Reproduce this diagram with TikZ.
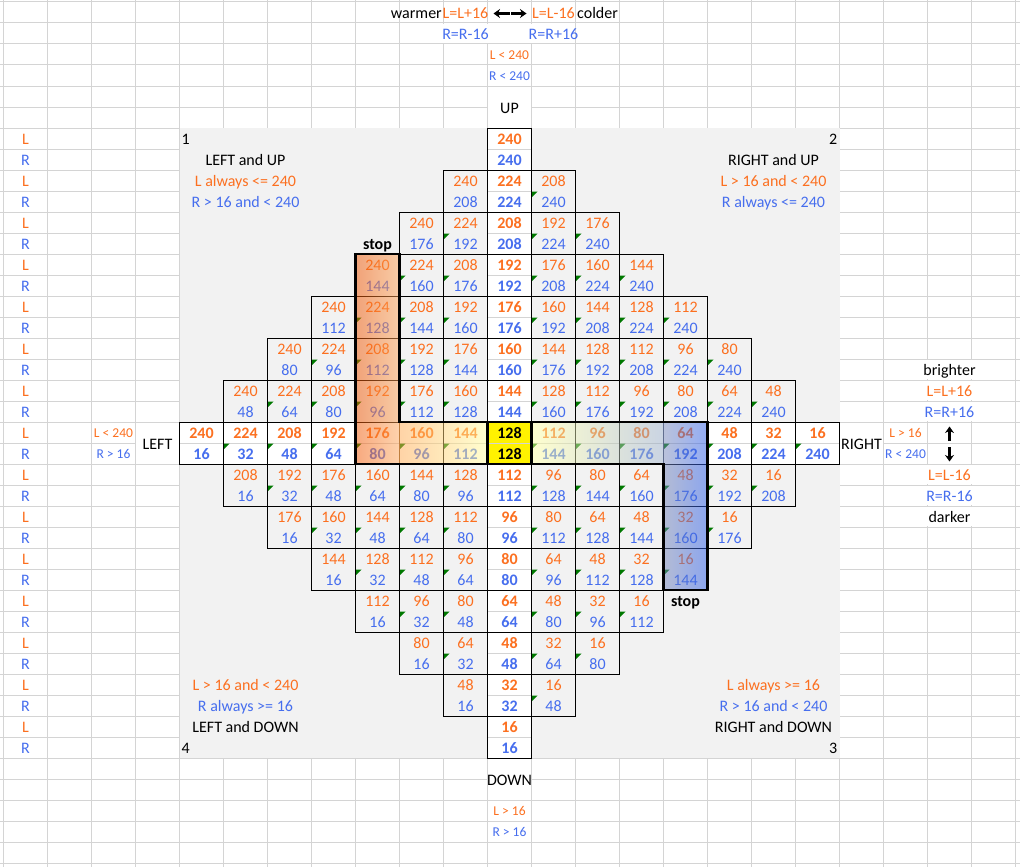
\documentclass[tikz,border=0pt]{standalone}
\usepackage{fontspec}
\setmainfont{Carlito}
\usetikzlibrary{arrows.meta}
\definecolor{lcol}{RGB}{252,112,32}
\definecolor{rcol}{RGB}{70,110,238}
\definecolor{gridc}{RGB}{212,212,212}
\definecolor{areac}{RGB}{242,242,242}
\definecolor{tickc}{RGB}{0,120,0}
\tikzset{>={Stealth[length=6.5pt,width=9pt]}}

\begin{document}
\begin{tikzpicture}[x=1pt, y=-1pt,
  txt/.style={inner sep=0pt, anchor=base, font=\fontsize{16}{19}\selectfont},
  small/.style={inner sep=0pt, anchor=base, font=\fontsize{13.5}{16}\selectfont},
  boldtxt/.style={txt, font=\fontsize{16}{19}\selectfont\bfseries},
  patch/.style={fill=white, draw=none},
  hilite/.style={line width=2.6pt, line join=miter}]

\useasboundingbox (0,0) rectangle (1020,867);
\fill[white] (0,0) rectangle (1020,867);

% sheet grid
\foreach \k in {0,...,23} \draw[gridc, line width=1pt] (3.5+44*\k,0) -- (3.5+44*\k,867);
\foreach \k in {0,...,41} \draw[gridc, line width=1pt] (0,2+21*\k) -- (1020,2+21*\k);

% merged cells
\fill[patch] (400.1,23.6) rectangle (574.9,43.4);
\fill[patch] (488.1,86.6) rectangle (530.9,127.4);
\fill[patch] (488.1,758.6) rectangle (530.9,799.4);
\fill[patch] (136.1,422.6) rectangle (178.9,463.4);
\fill[patch] (840.1,422.6) rectangle (882.9,463.4);
\foreach \y in {359,380,401,464,485,506} \fill[patch] (884.1,\y+0.6) rectangle (1014.9,\y+20.4);

\fill[areac] (179.5,128) rectangle (839.5,758);

% diamond of L/R cells
\foreach \rr in {-7,...,7}{
  \foreach \cc in {-7,...,7}{
    \pgfmathtruncatemacro{\dd}{abs(\cc)+abs(\rr)}
    \ifnum\dd<8
      \pgfmathsetmacro{\xa}{487.5+44*\cc}
      \pgfmathsetmacro{\ya}{422+42*\rr}
      \pgfmathtruncatemacro{\lv}{128-16*\cc-16*\rr}
      \pgfmathtruncatemacro{\rv}{128+16*\cc-16*\rr}
      \pgfmathtruncatemacro{\bld}{\cc*\rr==0}
      \pgfmathtruncatemacro{\tick}{(\cc!=0)&&(\cc!=-(7-abs(\rr)))}
      \def\lc{lcol}\def\rc{rcol}
      \ifnum\bld=1
        \let\ff\bfseries
        \ifnum\dd=0
          \fill[yellow] (\xa,\ya) rectangle ++(44,42);
          \def\lc{black}\def\rc{black}
        \else
          \fill[white] (\xa,\ya) rectangle ++(44,42);
        \fi
        \draw[gridc, line width=1pt] (\xa,\ya+21) -- ++(44,0);
      \else
        \let\ff\relax
      \fi
      \draw[black, line width=1pt] (\xa,\ya) rectangle ++(44,42);
      \ifnum\tick=1
        \fill[tickc] (\xa+0.5,\ya+21.5) -- ++(5.5,0) -- ++(-5.5,5.5) -- cycle;
      \fi
      \node[txt, text=\lc] (L\cc y\rr) at (\xa+22,\ya+16.5) {\ff\lv};
      \node[txt, text=\rc] (R\cc y\rr) at (\xa+22,\ya+37.5) {\ff\rv};
    \fi
  }
}

% highlighted path
\shade[left color={rgb,255:red,240;green,84;blue,0}, right color={rgb,255:red,255;green,168;blue,92}, opacity=0.5] (355.5,254) rectangle (399.5,464);
\shade[left color={rgb,255:red,255;green,170;blue,80}, right color={rgb,255:red,255;green,255;blue,160}, opacity=0.5] (399.5,422) rectangle (487.5,464);
\shade[left color={rgb,255:red,255;green,255;blue,160}, right color={rgb,255:red,150;green,170;blue,200}, opacity=0.5] (531.5,422) rectangle (663.5,464);
\shade[left color={rgb,255:red,118;green,134;blue,185}, right color={rgb,255:red,40;green,90;blue,235}, opacity=0.5] (663.5,422) rectangle (707.5,590);

\draw[hilite] (355.5,254) -- (399.5,254) -- (399.5,422) -- (487.5,422) -- (487.5,464) -- (355.5,464) -- cycle;
\draw[hilite] (487.5,422) rectangle (531.5,464);
\draw[hilite] (531.5,422) -- (707.5,422) -- (707.5,590) -- (663.5,590) -- (663.5,464) -- (531.5,464) -- cycle;
\node[boldtxt] (stopL) at (377.5,249.5) {stop};
\node[boldtxt] (stopR) at (685.5,606.5) {stop};

% row labels at the left
\foreach \k in {0,...,29}{
  \pgfmathtruncatemacro{\odd}{mod(\k,2)}
  \ifnum\odd=0
    \node[txt, text=lcol] (side\k) at (25.5,144.5+21*\k) {L};
  \else
    \node[txt, text=rcol] (side\k) at (25.5,144.5+21*\k) {R};
  \fi
}

% top
\node[txt, anchor=base east] (warm) at (442,18.5) {warmer};
\node[txt, text=lcol] (lplus) at (465.5,18.5) {L=L+16};
\node[txt, text=lcol] (lminus) at (553.5,18.5) {L=L-16};
\node[txt, anchor=base west] (cold) at (577,18.5) {colder};
\node[txt, text=rcol] (rminus) at (465.5,39.5) {R=R-16};
\node[txt, text=rcol] (rplus) at (553.5,39.5) {R=R+16};
\coordinate (hl) at (493.5,13.5);
\coordinate (hr) at (526.5,13.5);
\coordinate (hcl) at (509.5,13.5);
\coordinate (hcr) at (511,13.5);
\draw[->, line width=2.6pt] (hcl) -- (hl);
\draw[->, line width=2.6pt] (hcr) -- (hr);
\node[small, text=lcol] (upl) at (509.5,59.5) {L < 240};
\node[small, text=rcol] (upr) at (509.5,80.5) {R < 240};
\node[txt] (up) at (509.5,113) {UP};

% left and right
\node[small, text=lcol] (leftl) at (113.5,437.5) {L < 240};
\node[small, text=rcol] (leftr) at (113.5,458.5) {R > 16};
\node[txt] (left) at (157.5,449) {LEFT};
\node[txt] (right) at (861.5,449) {RIGHT};
\node[small, text=lcol] (rightl) at (905.5,437.5) {L > 16};
\node[small, text=rcol] (rightr) at (905.5,458.5) {R < 240};
\node[txt] (bright) at (949.5,375.5) {brighter};
\node[txt, text=lcol] (bl) at (949.5,396.5) {L=L+16};
\node[txt, text=rcol] (br) at (949.5,417.5) {R=R+16};
\node[txt, text=lcol] (dl) at (949.5,480.5) {L=L-16};
\node[txt, text=rcol] (dr) at (949.5,501.5) {R=R-16};
\node[txt] (dark) at (949.5,522.5) {darker};
\coordinate (vut) at (949.5,426.5);
\coordinate (vub) at (949.5,441);
\coordinate (vdt) at (949.5,447);
\coordinate (vdb) at (949.5,461.5);
\draw[->, line width=2.6pt] (vub) -- (vut);
\draw[->, line width=2.6pt] (vdt) -- (vdb);

% bottom
\node[txt] (down) at (509.5,785) {DOWN};
\node[small, text=lcol] (dnl) at (509.5,815.5) {L > 16};
\node[small, text=rcol] (dnr) at (509.5,836.5) {R > 16};

% quadrants
\node[txt, anchor=base west] (q1) at (181.5,144.5) {1};
\node[txt] (q1a) at (245.5,165.5) {LEFT and UP};
\node[txt, text=lcol] (q1b) at (245.5,186.5) {L always <= 240};
\node[txt, text=rcol] (q1c) at (245.5,207.5) {R > 16 and < 240};
\node[txt, anchor=base east] (q2) at (837.5,144.5) {2};
\node[txt] (q2a) at (773.5,165.5) {RIGHT and UP};
\node[txt, text=lcol] (q2b) at (773.5,186.5) {L > 16 and < 240};
\node[txt, text=rcol] (q2c) at (773.5,207.5) {R always <= 240};
\node[txt, text=lcol] (q4b) at (245.5,690.5) {L > 16 and < 240};
\node[txt, text=rcol] (q4c) at (245.5,711.5) {R always >= 16};
\node[txt] (q4a) at (245.5,732.5) {LEFT and DOWN};
\node[txt, anchor=base west] (q4) at (181.5,753.5) {4};
\node[txt, text=lcol] (q3b) at (773.5,690.5) {L always >= 16};
\node[txt, text=rcol] (q3c) at (773.5,711.5) {R > 16 and < 240};
\node[txt] (q3a) at (773.5,732.5) {RIGHT and DOWN};
\node[txt, anchor=base east] (q3) at (837.5,753.5) {3};
\end{tikzpicture}
\end{document}
